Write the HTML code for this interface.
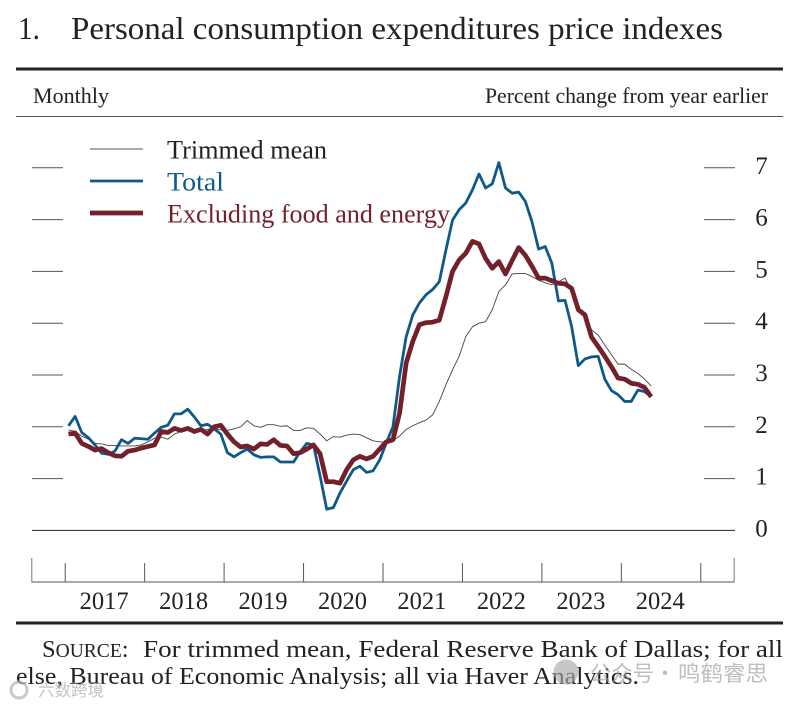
<!DOCTYPE html>
<html lang="en">
<head>
<meta charset="utf-8">
<title>Personal consumption expenditures price indexes</title>
<style>
html,body{margin:0;padding:0;background:#fff;width:794px;height:705px;overflow:hidden}
svg{display:block;font-family:"Liberation Serif","Noto Serif CJK SC",serif}
</style>
</head>
<body>
<svg id="chart" width="794" height="705" viewBox="0 0 794 705" xmlns="http://www.w3.org/2000/svg">
<text x="18" y="39" font-size="32" fill="#222" textLength="22" lengthAdjust="spacingAndGlyphs">1.</text>
<text x="71" y="39" font-size="32" fill="#222" textLength="652" lengthAdjust="spacingAndGlyphs">Personal consumption expenditures price indexes</text>
<rect x="16" y="67.5" width="767" height="3" fill="#222"/>
<text x="33" y="103" font-size="22" fill="#222" textLength="76" lengthAdjust="spacingAndGlyphs">Monthly</text>
<text x="485" y="103" font-size="22" fill="#222" textLength="283" lengthAdjust="spacingAndGlyphs">Percent change from year earlier</text>
<line x1="16" x2="783" y1="116.5" y2="116.5" stroke="#555" stroke-width="1"/>
<g id="axes"></g>
<g id="series"></g>
<g>
<line x1="90" x2="143" y1="149" y2="149" stroke="#555" stroke-width="0.9"/>
<text x="167" y="158.5" font-size="26" fill="#222" textLength="160" lengthAdjust="spacingAndGlyphs">Trimmed mean</text>
<line x1="90" x2="143" y1="181" y2="181" stroke="#0d5a88" stroke-width="2.8"/>
<text x="167" y="190.5" font-size="26" fill="#0d5a88" textLength="57" lengthAdjust="spacingAndGlyphs">Total</text>
<line x1="90" x2="143" y1="213" y2="213" stroke="#722029" stroke-width="4.8"/>
<text x="167" y="222.5" font-size="26" fill="#722029" textLength="283" lengthAdjust="spacingAndGlyphs">Excluding food and energy</text>
</g>
<rect x="16" y="621.5" width="767" height="3" fill="#222"/>
<text y="657" font-size="24.5" fill="#222"><tspan x="42">S</tspan><tspan font-size="19.5">OURCE</tspan><tspan>:</tspan></text>
<text x="143" y="657" font-size="24.5" fill="#222" textLength="640" lengthAdjust="spacingAndGlyphs">For trimmed mean, Federal Reserve Bank of Dallas; for all</text>
<text x="16" y="684" font-size="24.5" fill="#222" textLength="623" lengthAdjust="spacingAndGlyphs">else, Bureau of Economic Analysis; all via Haver Analytics.</text>
<g opacity="0.65" style="font-family:'Noto Sans CJK SC',sans-serif" fill="#9c9c9c">
<circle cx="566" cy="672" r="12.5" fill="#aaa"/>
<text x="590" y="681" font-size="21.5" textLength="64" lengthAdjust="spacingAndGlyphs">公众号</text>
<text x="665" y="681" font-size="21.5" text-anchor="middle">·</text>
<text x="678" y="681" font-size="21.5" textLength="90" lengthAdjust="spacingAndGlyphs">鸣鹤睿思</text>
</g>
<g opacity="0.7" style="font-family:'Noto Sans CJK SC',sans-serif">
<circle cx="19" cy="690" r="8" fill="none" stroke="#b5b5b5" stroke-width="3"/>
<text x="38" y="696" font-size="16.5" fill="#aaa" textLength="66" lengthAdjust="spacingAndGlyphs">六数跨境</text>
</g>
</svg>
<script>
const yearLabels = ["2017","2018","2019","2020","2021","2022","2023","2024"];
const yTickValues = [0,1,2,3,4,5,6,7];
const total = [2.02,2.20,1.89,1.79,1.65,1.49,1.47,1.53,1.75,1.68,1.78,1.77,1.76,1.88,1.99,2.03,2.25,2.25,2.34,2.19,2.02,2.05,1.96,1.86,1.50,1.42,1.50,1.57,1.46,1.41,1.42,1.42,1.32,1.32,1.32,1.52,1.68,1.65,1.05,0.41,0.44,0.72,0.95,1.17,1.24,1.12,1.15,1.36,1.69,2.00,2.97,3.74,4.16,4.39,4.55,4.65,4.80,5.41,5.99,6.19,6.32,6.57,6.88,6.61,6.69,7.10,6.61,6.51,6.53,6.35,5.96,5.43,5.48,5.16,4.43,4.44,3.93,3.18,3.31,3.35,3.36,2.92,2.70,2.62,2.49,2.49,2.71,2.68,2.58];
const core = [1.86,1.88,1.68,1.62,1.55,1.58,1.50,1.44,1.43,1.53,1.55,1.59,1.62,1.65,1.91,1.89,1.97,1.93,1.97,1.91,1.95,1.86,2.00,2.03,1.86,1.71,1.61,1.63,1.57,1.67,1.66,1.75,1.64,1.63,1.48,1.50,1.57,1.65,1.48,0.94,0.94,0.91,1.17,1.36,1.43,1.38,1.43,1.57,1.71,1.75,2.26,3.23,3.65,3.97,4.01,4.02,4.06,4.51,5.00,5.22,5.35,5.58,5.53,5.25,5.06,5.19,4.95,5.21,5.46,5.31,5.10,4.87,4.87,4.82,4.77,4.76,4.67,4.26,4.16,3.73,3.55,3.36,3.16,2.94,2.92,2.84,2.82,2.76,2.58];
const trimmed = [1.94,1.91,1.82,1.76,1.68,1.67,1.64,1.64,1.63,1.63,1.63,1.65,1.71,1.78,1.80,1.76,1.86,1.91,1.94,1.94,1.93,1.95,1.97,1.94,1.93,1.96,2.00,2.12,2.02,1.99,2.04,2.04,2.01,2.02,1.93,1.93,1.98,1.97,1.86,1.73,1.81,1.80,1.84,1.86,1.85,1.79,1.73,1.71,1.70,1.73,1.82,1.95,2.02,2.08,2.13,2.23,2.49,2.81,3.10,3.36,3.74,3.93,4.00,4.03,4.26,4.61,4.74,4.95,4.96,4.96,4.90,4.83,4.78,4.74,4.80,4.87,4.61,4.26,4.16,3.87,3.77,3.58,3.39,3.21,3.21,3.11,3.03,2.92,2.79];

const NS = "http://www.w3.org/2000/svg";
const firstYear = 2017;
function xMonth(m){ return 65.2 + m * 79.45 / 12; }
function xData(i){ return xMonth(i + 0.5); }
function y(v){ return 530.4 - v * 51.8; }
function make(parent, tag, attrs){
  const el = document.createElementNS(NS, tag);
  for (const k in attrs) el.setAttribute(k, attrs[k]);
  parent.appendChild(el);
  return el;
}
const axes = document.getElementById("axes");
const series = document.getElementById("series");

yTickValues.forEach(function(v){
  if (v === 0) {
    const base = make(axes, "line", {x1:32, x2:735, y1:y(0), y2:y(0), stroke:"#222", "stroke-width":1});
    
    
  } else {
    const l = make(axes, "line", {x1:32, x2:63, y1:y(v), y2:y(v), stroke:"#555", "stroke-width":1});
    
    
    const r = make(axes, "line", {x1:704, x2:735, y1:y(v), y2:y(v), stroke:"#555", "stroke-width":1});
    
    
  }
  const t = make(axes, "text", {x:761.5, y:y(v) + 6, "font-size":25, fill:"#222", "text-anchor":"middle"});
  
  
  t.textContent = String(v);
});

const xAxis = make(axes, "line", {x1:31.5, x2:734.5, y1:582, y2:582, stroke:"#777", "stroke-width":1.2});


[31.8, 734.2].forEach(function(px){
  const e = make(axes, "line", {x1:px, x2:px, y1:558, y2:582, stroke:"#777", "stroke-width":1});
  
  
});
for (let k = 0; k <= yearLabels.length; k++) {
  const px = xMonth(k * 12);
  const tk = make(axes, "line", {x1:px, x2:px, y1:563, y2:582, stroke:"#555", "stroke-width":1});
  
  
}
yearLabels.forEach(function(label){
  const idx = parseInt(label, 10) - firstYear;
  const t = make(axes, "text", {x:xMonth(idx * 12 + 6) - 0.8, y:609, "font-size":25, fill:"#222", "text-anchor":"middle", textLength:49, lengthAdjust:"spacingAndGlyphs"});
  
  
  t.textContent = label;
});

function pathFor(values){
  return values.map(function(v, i){ return (i ? "L" : "M") + xData(i).toFixed(2) + " " + y(v).toFixed(2); }).join(" ");
}
const trimmedLine = make(series, "path", {d:pathFor(trimmed), fill:"none", stroke:"#444", "stroke-width":0.9, "stroke-linejoin":"round"});


const totalLine = make(series, "path", {d:pathFor(total), fill:"none", stroke:"#0d5a88", "stroke-width":2.8, "stroke-linejoin":"round"});


const coreLine = make(series, "path", {d:pathFor(core), fill:"none", stroke:"#722029", "stroke-width":4.7, "stroke-linejoin":"round"});


</script>
</body>
</html>
